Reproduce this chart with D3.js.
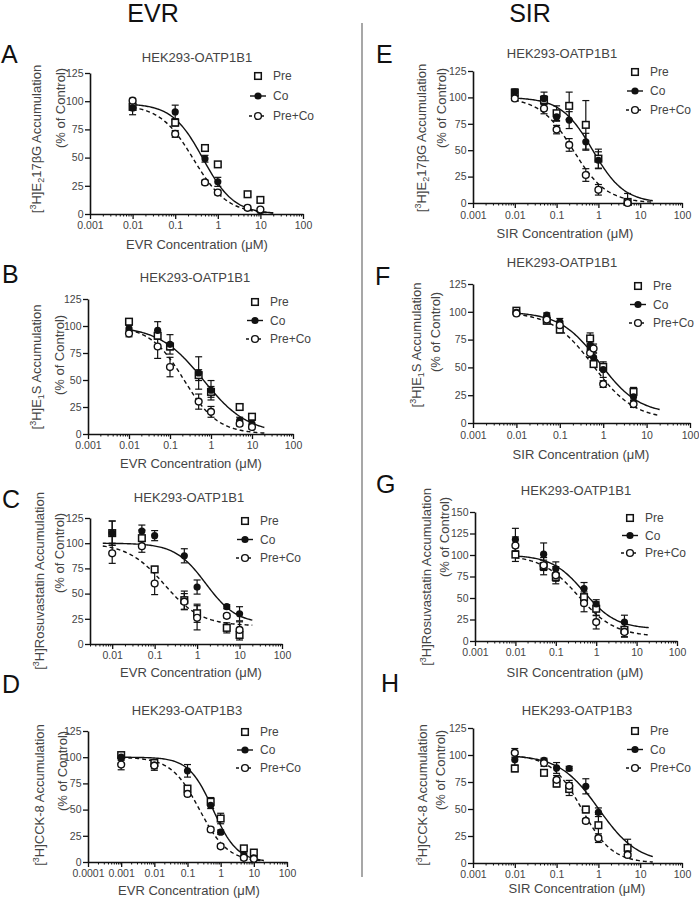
<!DOCTYPE html>
<html><head><meta charset="utf-8">
<script src="https://cdn.jsdelivr.net/npm/d3@7"></script>
<style>body{margin:0;background:#fff}svg{display:block}text{font-family:"Liberation Sans",Arial,sans-serif}</style>
</head><body>
<script>
// ---------------- DATA ----------------
const xTicksStd = [0.001, 0.01, 0.1, 1, 10, 100];
const xTicksC = [0.01, 0.1, 1, 10, 100];
const xTicksD = [0.0001, 0.001, 0.01, 0.1, 1, 10, 100];
const yTicks125 = [0, 25, 50, 75, 100, 125];
const yTicks150 = [0, 25, 50, 75, 100, 125, 150];
const seriesNames = ["Pre", "Co", "Pre+Co"];

// fit parameters: [top, bottom, IC50, hill]
const A_conc = [0.01, 0.1, 0.5, 1, 5, 10];
const A_pre = [95, 81, 58.5, 44, 17.5, 12.5];
const A_preErr = [3, 3, 2, 2, 2, 2];
const A_co = [94, 90.5, 49, 28.5, 5.5, 3];
const A_coErr = [6, 6, 3, 4, 2, 2];
const A_preco = [100.5, 71, 28, 19, 5.5, 4];
const A_precoErr = [2, 3, 2, 2, 1, 1];
const A_coFit = [98, 0, 0.45, 1.2];
const A_precoFit = [97, 0, 0.27, 1.1];

const B_conc = [0.01, 0.05, 0.1, 0.5, 1, 5, 10];
const B_pre = [104, 91, 81, 54.5, 39, 25, 16];
const B_preErr = [2, 3, 3, 5, 5, 2, 2];
const B_co = [97.5, 96, 83, 56.5, 40.5, 12.5, 9.5];
const B_coErr = [3, 8, 9, 15, 9, 3, 3];
const B_preco = [93, 81, 62, 30, 20.5, 9.5, 6.5];
const B_precoErr = [3, 11, 9, 7, 5, 2, 2];
const B_coFit = [100, 0, 0.65, 0.8];
const B_precoFit = [100, 0, 0.22, 1.05];

const C_conc = [0.01, 0.05, 0.1, 0.5, 1, 5, 10];
const C_pre = [110, 105, 74, 43.5, 30.5, 16, 9];
const C_preErr = [12, 8, 3, 9, 9, 5, 5];
const C_co = [110, 112, 107.5, 87.5, 56.5, 37, 30];
const C_coErr = [12, 6, 5, 7, 7, 2, 7];
const C_preco = [90, 97, 60, 42, 26, 28, 14];
const C_precoErr = [10, 6, 11, 8, 12, 2, 8];
const C_coFit = [100, 20, 1.6, 1.2];
const C_precoFit = [100, 18, 0.17, 1.0];

const D_conc = [0.001, 0.01, 0.1, 0.5, 1, 5, 10];
const D_pre = [102, 94.5, 70, 57.5, 41.5, 13, 9];
const D_preErr = [2, 3, 3, 4, 5, 2, 2];
const D_co = [100, 92.5, 87, 54, 28.5, 6.5, 4];
const D_coErr = [3, 5, 6, 3, 2, 2, 2];
const D_preco = [93, 92, 65, 31, 15, 4, 3];
const D_precoErr = [5, 3, 2, 2, 2, 2, 2];
const D_coFit = [100, 0, 0.59, 1.19];
const D_precoFit = [100, 0, 0.23, 1.02];

const E_conc = [0.01, 0.05, 0.1, 0.2, 0.5, 1, 5];
const E_pre = [104.5, 97.5, 85, 92, 74, 42, 1];
const E_preErr = [3, 4, 7, 13, 23, 9, 2];
const E_co = [105, 99, 81.5, 78.5, 58, 40.5, 0.5];
const E_coErr = [3, 6, 4, 8, 8, 8, 2];
const E_preco = [99, 89.5, 69.5, 55, 26.5, 12.5, 0];
const E_precoErr = [2, 5, 4, 6, 6, 5, 9];
const E_coFit = [100, 0, 0.73, 1.15];
const E_precoFit = [100, 0, 0.25, 1.09];

const F_conc = [0.01, 0.05, 0.1, 0.5, 0.6, 1, 5];
const F_pre = [101, 92, 84, 76, 53, 50.5, 28];
const F_preErr = [2, 3, 3, 5, 3, 3, 4];
const F_co = [99.5, 97, 91, 70, 59, 48, 23.5];
const F_coErr = [2, 2, 3, 4, 4, 7, 3];
const F_preco = [98.5, 93, 88, 63, 67, 35, 17];
const F_precoErr = [2, 3, 3, 4, 4, 3, 3];
const F_coFit = [100, 8, 0.83, 0.96];
const F_precoFit = [100, 3, 0.59, 0.916];

const G_conc = [0.01, 0.05, 0.1, 0.5, 1, 5];
const G_pre = [100.5, 87, 74.5, 51, 37.5, 13];
const G_preErr = [8, 10, 5, 6, 8, 8];
const G_co = [118, 101, 84, 61, 43, 22];
const G_coErr = [13, 13, 8, 7, 5, 8];
const G_preco = [111, 88, 76.5, 44, 22, 10.5];
const G_precoErr = [10, 6, 10, 10, 8, 6];
const G_coFit = [100, 14, 0.5, 1.09];
const G_precoFit = [100, 5, 0.36, 0.95];

const H_conc = [0.01, 0.05, 0.1, 0.2, 0.5, 1, 5];
const H_pre = [87.5, 83.5, 73.5, 68.5, 49.5, 35, 14];
const H_preErr = [3, 2, 3, 6, 3, 10, 8];
const H_co = [95.5, 95, 88, 87.5, 71, 47, 8.5];
const H_coErr = [5, 2, 5, 2, 7, 4, 2];
const H_preco = [102, 92.5, 77, 71.5, 39, 23, 7.5];
const H_precoErr = [4, 3, 4, 5, 2, 4, 2];
const H_coFit = [100, 0, 1.02, 0.93];
const H_precoFit = [100, 0, 0.40, 1.2];

// y-label first lines (parts: [text, mode])
const labE217 = [["[",""],["3","sup"],["H]E",""],["2","sub"],["17\u03B2G Accumulation",""]];
const labE1S = [["[",""],["3","sup"],["H]E",""],["1","sub"],["S Accumulation",""]];
const labRosu = [["[",""],["3","sup"],["H]Rosuvastatin Accumulation",""]];
const labCCK = [["[",""],["3","sup"],["H]CCK-8 Accumulation",""]];

// ---------------- LAYOUT ----------------
const panels = [
 {L:"A", lx:1, ly:63, xL:90, xR:303, yB:214, yT:73, xmin:0.001, ymax:125, xt:xTicksStd, yt:yTicks125,
  title:"HEK293-OATP1B1", tx:197, ty:61.5, xlab:"EVR Concentration (\u03BCM)", xlx:197, xly:248.5, tlo:15,
  y1:labE217, y1x:36, y1y:139, y2x:60, y2y:108, gx:258, gy:76, gdy:20, cs:0.01,
  conc:A_conc, pre:A_pre, preE:A_preErr, co:A_co, coE:A_coErr, pc:A_preco, pcE:A_precoErr, coFit:A_coFit, pcFit:A_precoFit},
 {L:"B", lx:2, ly:283, xL:88, xR:293, yB:434, yT:299, xmin:0.001, ymax:125, xt:xTicksStd, yt:yTicks125,
  title:"HEK293-OATP1B1", tx:195, ty:281.5, xlab:"EVR Concentration (\u03BCM)", xlx:191, xly:467.5, tlo:15,
  y1:labE1S, y1x:36, y1y:367, y2x:59, y2y:355, gx:255, gy:302, gdy:18.5, cs:0.01,
  conc:B_conc, pre:B_pre, preE:B_preErr, co:B_co, coE:B_coErr, pc:B_preco, pcE:B_precoErr, coFit:B_coFit, pcFit:B_precoFit},
 {L:"C", lx:2, ly:508, xL:90, xR:282, yB:644, yT:518, xmin:0.003, ymax:125, xt:xTicksC, yt:yTicks125,
  title:"HEK293-OATP1B1", tx:189, ty:501.5, xlab:"EVR Concentration (\u03BCM)", xlx:191, xly:676.5, tlo:15,
  y1:labRosu, y1x:39, y1y:581, y2x:59, y2y:553, gx:245, gy:521, gdy:18.5, cs:0.006,
  conc:C_conc, pre:C_pre, preE:C_preErr, co:C_co, coE:C_coErr, pc:C_preco, pcE:C_precoErr, coFit:C_coFit, pcFit:C_precoFit},
 {L:"D", lx:2, ly:693, xL:88, xR:287, yB:862, yT:731, xmin:0.0001, ymax:125, xt:xTicksD, yt:yTicks125,
  title:"HEK293-OATP1B3", tx:187, ty:714.5, xlab:"EVR Concentration (\u03BCM)", xlx:189, xly:894.5, tlo:15,
  y1:labCCK, y1x:39, y1y:795, y2x:62, y2y:771, gx:245, gy:732, gdy:18, cs:0.001,
  conc:D_conc, pre:D_pre, preE:D_preErr, co:D_co, coE:D_coErr, pc:D_preco, pcE:D_precoErr, coFit:D_coFit, pcFit:D_precoFit},
 {L:"E", lx:376, ly:63, xL:473, xR:682, yB:203, yT:71, xmin:0.001, ymax:125, xt:xTicksStd, yt:yTicks125,
  title:"HEK293-OATP1B1", tx:562, ty:57.5, xlab:"SIR Concentration (\u03BCM)", xlx:565, xly:238, tlo:15.5,
  y1:labE217, y1x:421, y1y:138, y2x:441, y2y:108, gx:635, gy:72, gdy:19, cs:0.01,
  conc:E_conc, pre:E_pre, preE:E_preErr, co:E_co, coE:E_coErr, pc:E_preco, pcE:E_precoErr, coFit:E_coFit, pcFit:E_precoFit},
 {L:"F", lx:375, ly:285, xL:473, xR:690, yB:423, yT:284, xmin:0.001, ymax:125, xt:xTicksStd, yt:yTicks125,
  title:"HEK293-OATP1B1", tx:562, ty:266.5, xlab:"SIR Concentration (\u03BCM)", xlx:581, xly:458.5, tlo:16,
  y1:labE1S, y1x:416, y1y:345, y2x:435, y2y:332, gx:638, gy:286, gdy:18.5, cs:0.01,
  conc:F_conc, pre:F_pre, preE:F_preErr, co:F_co, coE:F_coErr, pc:F_preco, pcE:F_precoErr, coFit:F_coFit, pcFit:F_precoFit},
 {L:"G", lx:376, ly:493, xL:475, xR:677, yB:641, yT:512, xmin:0.001, ymax:150, xt:xTicksStd, yt:yTicks150,
  title:"HEK293-OATP1B1", tx:576, ty:494.5, xlab:"SIR Concentration (\u03BCM)", xlx:575, xly:676.5, tlo:15,
  y1:labRosu, y1x:426, y1y:577, y2x:444, y2y:537, gx:630, gy:518, gdy:17.5, cs:0.01,
  conc:G_conc, pre:G_pre, preE:G_preErr, co:G_co, coE:G_coErr, pc:G_preco, pcE:G_precoErr, coFit:G_coFit, pcFit:G_precoFit},
 {L:"H", lx:381, ly:692, xL:473, xR:682, yB:863, yT:728, xmin:0.001, ymax:125, xt:xTicksStd, yt:yTicks125,
  title:"HEK293-OATP1B3", tx:577, ty:714.5, xlab:"SIR Concentration (\u03BCM)", xlx:577, xly:892.5, tlo:15,
  y1:labCCK, y1x:422, y1y:795, y2x:440, y2y:770, gx:635, gy:731, gdy:18.5, cs:0.01,
  conc:H_conc, pre:H_pre, preE:H_preErr, co:H_co, coE:H_coErr, pc:H_preco, pcE:H_precoErr, coFit:H_coFit, pcFit:H_precoFit}
];

const INK = "#111", TXT = "#444";
const svg = d3.select("body").append("svg").attr("width", 699).attr("height", 900);
svg.append("rect").attr("width", 699).attr("height", 900).attr("fill", "#fff");

// headers + divider
svg.append("text").attr("x", 153).attr("y", 22).attr("text-anchor", "middle").attr("font-size", 25).attr("fill", "#111").text("EVR");
svg.append("text").attr("x", 530).attr("y", 22).attr("text-anchor", "middle").attr("font-size", 25).attr("fill", "#111").text("SIR");
svg.append("line").attr("x1", 362).attr("x2", 362).attr("y1", 23).attr("y2", 877).attr("stroke", "#8a8a8a").attr("stroke-width", 1.5);

function logistic(p, c) { return p[1] + (p[0] - p[1]) / (1 + Math.pow(c / p[2], p[3])); }

function drawPanel(p) {
  const g = svg.append("g");
  const x = d3.scaleLog().domain([p.xmin, 100]).range([p.xL, p.xR]);
  const y = d3.scaleLinear().domain([0, p.ymax]).range([p.yB, p.yT]);
  const FS = 10.5;

  g.append("text").attr("x", p.lx).attr("y", p.ly).attr("font-size", 25).attr("fill", "#111").text(p.L);
  g.append("text").attr("x", p.tx).attr("y", p.ty).attr("text-anchor", "middle").attr("font-size", 13).attr("fill", TXT).text(p.title);

  // minor ticks
  const minors = [];
  const e0 = Math.floor(Math.log10(p.xmin) + 1e-9), e1 = 2;
  for (let e = e0; e < e1; e++) for (let m = 1; m <= 9; m++) {
    const v = m * Math.pow(10, e);
    if (v >= p.xmin * 0.999 && v <= 100 && !p.xt.some(t => Math.abs(t - v) / v < 1e-6)) minors.push(v);
  }
  const gxMinor = g.append("g").attr("transform", `translate(0,${p.yB})`)
    .call(d3.axisBottom(x).tickValues(minors).tickSize(2.5).tickFormat(""));
  gxMinor.select(".domain").remove();
  gxMinor.selectAll("line").attr("stroke", INK).attr("stroke-width", 1);

  const gx = g.append("g").attr("transform", `translate(0,${p.yB})`)
    .call(d3.axisBottom(x).tickValues(p.xt).tickSize(5).tickSizeOuter(0).tickPadding(p.tlo - 5 - 0.71 * FS)
      .tickFormat(d => String(d)));
  gx.select(".domain").attr("stroke", INK).attr("stroke-width", 1.6);
  gx.selectAll("line").attr("stroke", INK).attr("stroke-width", 1.3);
  gx.selectAll("text").attr("font-size", FS).attr("fill", TXT).attr("font-family", '"Liberation Sans",Arial,sans-serif');

  const gy = g.append("g").attr("transform", `translate(${p.xL},0)`)
    .call(d3.axisLeft(y).tickValues(p.yt).tickSize(5).tickSizeOuter(0).tickPadding(1.5));
  gy.select(".domain").attr("stroke", INK).attr("stroke-width", 1.6);
  gy.selectAll("line").attr("stroke", INK).attr("stroke-width", 1.3);
  gy.selectAll("text").attr("font-size", FS).attr("fill", TXT).attr("font-family", '"Liberation Sans",Arial,sans-serif');

  // axis titles
  g.append("text").attr("x", p.xlx).attr("y", p.xly).attr("text-anchor", "middle").attr("font-size", 13).attr("fill", TXT).text(p.xlab);
  const t1 = g.append("text").attr("transform", `translate(${p.y1x},${p.y1y}) rotate(-90)`).attr("y", 4.5)
    .attr("text-anchor", "middle").attr("font-size", 13).attr("fill", TXT);
  p.y1.forEach(([s, mode], i) => {
    const ts = t1.append("tspan").text(s);
    const prev = i > 0 ? p.y1[i - 1][1] : "";
    let dy = 0;
    if (prev === "sup") dy += 5; if (prev === "sub") dy -= 3;
    if (mode === "sup") { dy -= 5; ts.attr("font-size", 9); }
    if (mode === "sub") { dy += 3; ts.attr("font-size", 9); }
    if (dy) ts.attr("dy", dy);
  });
  g.append("text").attr("transform", `translate(${p.y2x},${p.y2y}) rotate(-90)`).attr("y", 4.5)
    .attr("text-anchor", "middle").attr("font-size", 13).attr("fill", TXT).text("(% of Control)");

  // fitted curves
  const cx = d3.range(0, 121).map(i => Math.pow(10, Math.log10(p.cs) + (Math.log10(20) - Math.log10(p.cs)) * i / 120));
  const line = d3.line().x(d => x(d[0])).y(d => y(d[1]));
  g.append("path").attr("d", line(cx.map(c => [c, logistic(p.coFit, c)]))).attr("fill", "none").attr("stroke", INK).attr("stroke-width", 1.4);
  g.append("path").attr("d", line(cx.map(c => [c, logistic(p.pcFit, c)]))).attr("fill", "none").attr("stroke", INK).attr("stroke-width", 1.4).attr("stroke-dasharray", "4,3");

  // error bars
  const series = [[p.pre, p.preE], [p.co, p.coE], [p.pc, p.pcE]];
  series.forEach(([vals, errs]) => {
    p.conc.forEach((c, i) => {
      const xx = x(c), yt = y(vals[i] + errs[i]), yb = y(Math.max(0, vals[i] - errs[i]));
      g.append("line").attr("x1", xx).attr("x2", xx).attr("y1", yt).attr("y2", yb).attr("stroke", INK).attr("stroke-width", 1.2);
      [yt, yb].forEach(yy => g.append("line").attr("x1", xx - 3.5).attr("x2", xx + 3.5).attr("y1", yy).attr("y2", yy).attr("stroke", INK).attr("stroke-width", 1.2));
    });
  });

  // markers
  function square(sel, cx0, cy0) {
    sel.append("rect").attr("x", cx0 - 3.3).attr("y", cy0 - 3.3).attr("width", 6.6).attr("height", 6.6)
      .attr("fill", "#fff").attr("stroke", INK).attr("stroke-width", 1.5);
  }
  function dot(sel, cx0, cy0) { sel.append("circle").attr("cx", cx0).attr("cy", cy0).attr("r", 3.6).attr("fill", INK); }
  function ring(sel, cx0, cy0) { sel.append("circle").attr("cx", cx0).attr("cy", cy0).attr("r", 3.4).attr("fill", "#fff").attr("stroke", INK).attr("stroke-width", 1.4); }
  p.conc.forEach((c, i) => square(g, x(c), y(p.pre[i])));
  p.conc.forEach((c, i) => dot(g, x(c), y(p.co[i])));
  p.conc.forEach((c, i) => ring(g, x(c), y(p.pc[i])));

  // legend
  const lg = g.append("g");
  seriesNames.forEach((nm, k) => {
    const yy = p.gy + k * p.gdy;
    if (k === 1) lg.append("line").attr("x1", p.gx - 8).attr("x2", p.gx + 8).attr("y1", yy).attr("y2", yy).attr("stroke", INK).attr("stroke-width", 1.4);
    if (k === 2) lg.append("line").attr("x1", p.gx - 9).attr("x2", p.gx + 9).attr("y1", yy).attr("y2", yy).attr("stroke", INK).attr("stroke-width", 1.4).attr("stroke-dasharray", "3,3");
    if (k === 0) square(lg, p.gx, yy); else if (k === 1) dot(lg, p.gx, yy); else ring(lg, p.gx, yy);
    lg.append("text").attr("x", p.gx + 15).attr("y", yy + 4.3).attr("font-size", 12).attr("fill", TXT).text(nm);
  });
}
panels.forEach(drawPanel);
</script>
</body></html>
